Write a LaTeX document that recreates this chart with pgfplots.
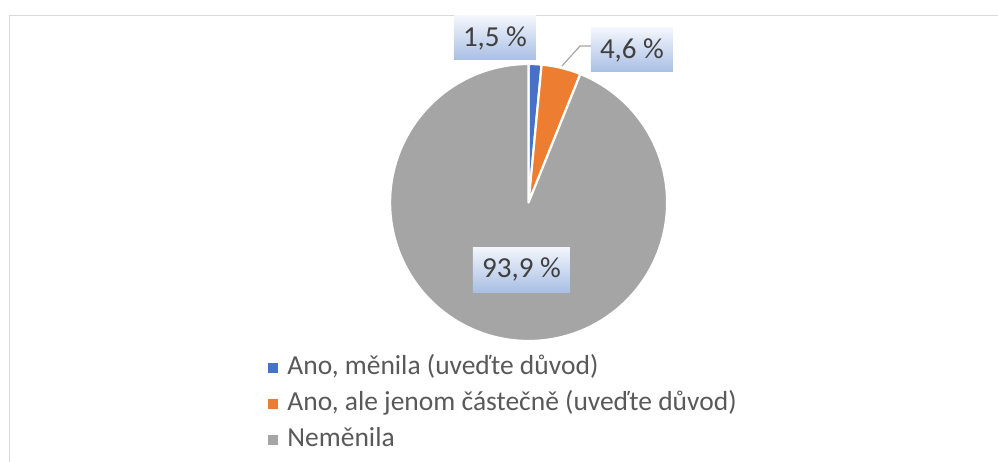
\documentclass[border=0pt]{standalone}
\usepackage{pgfplots}
\pgfplotsset{compat=1.18}
\usepackage{fontspec}
\setmainfont{Carlito}
\usetikzlibrary{shadings}
\definecolor{cblue}{HTML}{4472C4}
\definecolor{corange}{HTML}{ED7D31}
\definecolor{cgray}{HTML}{A5A5A5}
\definecolor{txt}{HTML}{404040}
\definecolor{legtxt}{HTML}{595959}
\definecolor{boxtop}{HTML}{F3F6FC}
\definecolor{boxbot}{HTML}{A9BFE4}
\definecolor{frame}{HTML}{D9D9D9}
% data (percent)
\def\vA{1.5}
\def\vB{4.6}
\def\vC{93.9}
% geometry (px)
\def\cx{528.6}
\def\cy{202.5}
\def\r{138.5}
\pgfmathsetmacro{\aA}{90}
\pgfmathsetmacro{\aB}{90-3.6*\vA}
\pgfmathsetmacro{\aC}{\aB-3.6*\vB}
\pgfmathsetmacro{\aD}{\aC-3.6*\vC}
\begin{document}
\begin{tikzpicture}
\useasboundingbox (0,0) rectangle (998bp,462bp);
\begin{axis}[
  at={(0,0)}, anchor=south west,
  scale only axis, width=998bp, height=462bp,
  xmin=0, xmax=998, ymin=0, ymax=462, y dir=reverse,
  axis lines=none, clip=false,
  legend image code/.code={\fill[#1] (0bp,-6bp) rectangle (12bp,6bp); \path (16bp,0bp);},
  legend cell align=left,
  legend style={at={(axis cs:266,352)}, anchor=north west, draw=none, fill=none,
    font=\fontsize{27.5bp}{30bp}\selectfont, text=legtxt,
    row sep=5bp, inner sep=0pt,
    nodes={text height=19bp, text depth=6bp, inner sep=3bp}},
]
\addplot[fill=cblue, draw=white, line width=2.2bp, line join=round, domain=\aB:\aA, samples=6]
  ({\cx+\r*cos(x)},{\cy-\r*sin(x)}) -- (axis cs:\cx,\cy) -- cycle;
\addplot[fill=corange, draw=white, line width=2.2bp, line join=round, domain=\aC:\aB, samples=12]
  ({\cx+\r*cos(x)},{\cy-\r*sin(x)}) -- (axis cs:\cx,\cy) -- cycle;
\addplot[fill=cgray, draw=white, line width=2.2bp, line join=round, domain=\aD:\aC, samples=200]
  ({\cx+\r*cos(x)},{\cy-\r*sin(x)}) -- (axis cs:\cx,\cy) -- cycle;
\legend{{Ano, měnila (uveďte důvod)}, {Ano, ale jenom částečně (uveďte důvod)}, {Neměnila}}
% frame
\draw[frame, line width=1.6bp] (axis cs:9.5,470) -- (axis cs:9.5,15.5) -- (axis cs:1000,15.5);
% leader line
\draw[cgray, line width=1.2bp] (axis cs:591,46) -- (axis cs:580,46) -- (axis cs:562,66);
% labels
\tikzset{lbl/.style={top color=boxtop, bottom color=boxbot, draw=none, inner sep=0pt,
  minimum height=44bp, text=txt, font=\fontsize{29bp}{30bp}\selectfont}}
\node[lbl, minimum width=82bp] at (axis cs:495,38) {1,5 \%};
\node[lbl, minimum width=82bp] at (axis cs:632,50) {4,6 \%};
\node[lbl, minimum width=97bp, minimum height=45bp] at (axis cs:521.5,269.5) {93,9 \%};
\end{axis}
\end{tikzpicture}
\end{document}
